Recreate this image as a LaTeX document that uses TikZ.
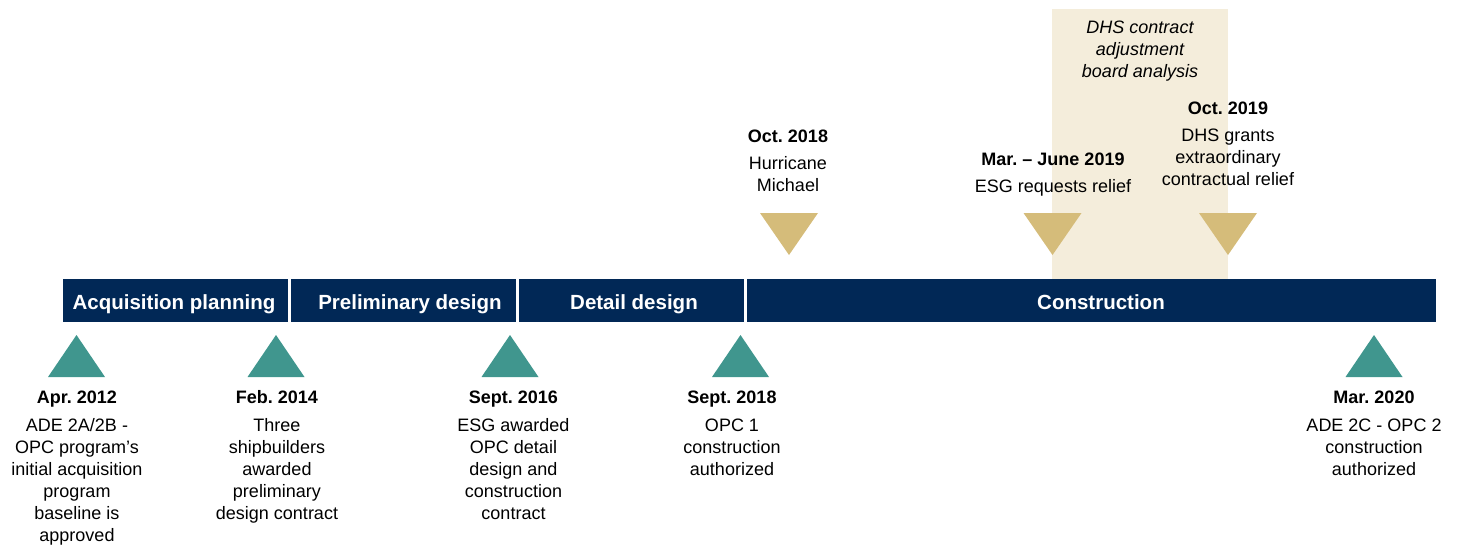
\documentclass[tikz,border=0pt]{standalone}
\usepackage{fontspec}
\setmainfont{Liberation Sans}
\usetikzlibrary{positioning}
\frenchspacing
\definecolor{navy}{RGB}{1,40,86}
\definecolor{milestone}{RGB}{64,150,142}
\definecolor{event}{RGB}{213,188,122}
\definecolor{boardbg}{RGB}{244,237,219}
\tikzset{
	phase/.style = {fill=navy, minimum height=43pt, inner sep=0pt, draw=none},
	phasetxt/.style = {text=white, inner sep=0pt, anchor=base, font=\fontsize{20.5}{24}\selectfont\bfseries},
	note/.style = {align=center, inner sep=0pt, anchor=north, font=\fontsize{18}{22}\selectfont}
}

\begin{document}
\begin{tikzpicture}[x=1pt, y=-1pt]
	\useasboundingbox (0,0) rectangle (1460,546);
	% board analysis window
	\fill[boardbg] (1052,9) rectangle (1228,279);
	\node[note, font=\fontsize{18}{22}\selectfont\itshape] (board) at (1140,20.5) {DHS contract\\adjustment\\board analysis};
	% phases
	\node[phase, minimum width=225pt] (acq) at (175.5,300.5) {};
	\node[phase, minimum width=225pt] (prelim) at (403.5,300.5) {};
	\node[phase, minimum width=225pt] (detail) at (631.5,300.5) {};
	\node[phase, minimum width=689pt] (constr) at (1091.5,300.5) {};
	\node[phasetxt] (acqtxt) at (174,309) {Acquisition planning};
	\node[phasetxt] (prelimtxt) at (410,309) {Preliminary design};
	\node[phasetxt] (detailtxt) at (634,309) {Detail design};
	\node[phasetxt] (constrtxt) at (1101,309) {Construction};
	% milestones below the bar
	\foreach \x in {76.5, 276, 510, 740.5, 1374}
		\fill[milestone] (\x-28.5,377) -- (\x+28.5,377) -- (\x,335) -- cycle;
	\node[note] (apr12) at (77,390.5) {\textbf{Apr. 2012}\\[6pt]ADE 2A/2B -\\OPC program’s\\initial acquisition\\program\\baseline is\\approved};
	\node[note] (feb14) at (277,390.5) {\textbf{Feb. 2014}\\[6pt]Three\\shipbuilders\\awarded\\preliminary\\design contract};
	\node[note] (sep16) at (513.5,390.5) {\textbf{Sept. 2016}\\[6pt]ESG awarded\\OPC detail\\design and\\construction\\contract};
	\node[note] (sep18) at (732,390.5) {\textbf{Sept. 2018}\\[6pt]OPC 1\\construction\\authorized};
	\node[note] (mar20) at (1374,390.5) {\textbf{Mar. 2020}\\[6pt]ADE 2C - OPC 2\\construction\\authorized};
	% events above the bar
	\foreach \x in {789, 1052.5, 1228}
		\fill[event] (\x-29,213) -- (\x+29,213) -- (\x,255) -- cycle;
	\node[note] (oct18) at (788,129.5) {\textbf{Oct. 2018}\\[5pt]Hurricane\\Michael};
	\node[note] (jun19) at (1053,152.5) {\textbf{Mar. – June 2019}\\[5pt]ESG requests relief};
	\node[note] (oct19) at (1228,101.5) {\textbf{Oct. 2019}\\[5pt]DHS grants\\extraordinary\\contractual relief};
\end{tikzpicture}
\end{document}
